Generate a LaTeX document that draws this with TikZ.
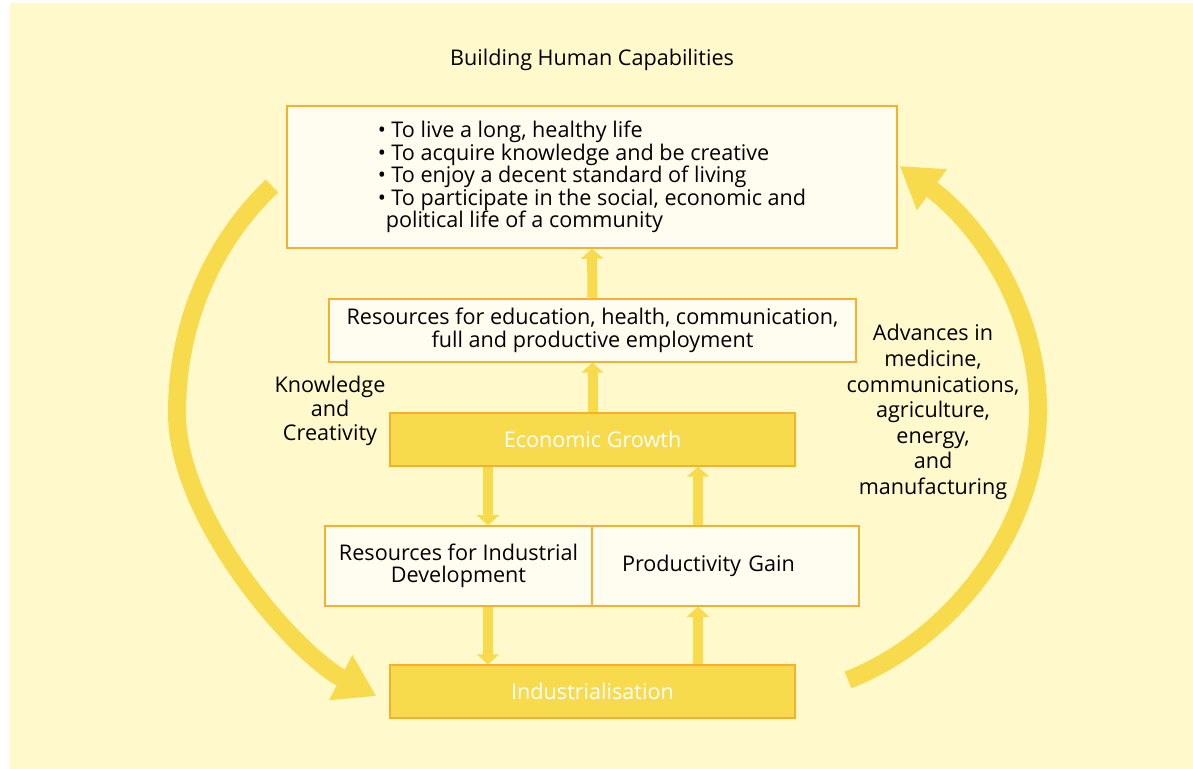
\documentclass[tikz,border=0pt]{standalone}
\usepackage{fontspec}
\setmainfont{Open Sans}
\usetikzlibrary{arrows.meta}
\definecolor{bgyellow}{HTML}{FFF9CC}
\definecolor{boxfill}{HTML}{FFFDEF}
\definecolor{boxline}{HTML}{F5B02E}
\definecolor{flowyellow}{HTML}{F7DB4D}
\tikzset{
  lightbox/.style={draw=boxline, line width=0.75pt, fill=boxfill, inner sep=0pt},
  darkbox/.style={draw=boxline, line width=0.75pt, fill=flowyellow, text=white, inner sep=0pt, minimum width=202.5pt, minimum height=26.5pt},
  flowarrow/.style={draw=flowyellow, line width=5pt, -{Triangle[length=5pt,width=11pt]}},
  cyclearrow/.style={draw=flowyellow, line width=9pt, -{Triangle[length=20pt,width=24pt]}},
  sidetext/.style={align=center, font=\fontsize{10.8}{12.8}\selectfont}
}
\begin{document}
\begin{tikzpicture}[x=0.5pt, y=-0.5pt, font=\fontsize{10.8}{11.3}\selectfont]
\useasboundingbox (0,0) rectangle (1193,769);
\fill[bgyellow] (10,3) rectangle (1193,769);
\node (title) at (592,60) {Building Human Capabilities};
\node[lightbox, minimum width=305pt, minimum height=71pt, align=left] (goals) at (592,177)
  {\textbullet\ To live a long, healthy life\\
   \textbullet\ To acquire knowledge and be creative\\
   \textbullet\ To enjoy a decent standard of living\\
   \textbullet\ To participate in the social, economic and\\
   \hspace*{4pt}political life of a community};
\node[lightbox, minimum width=263.5pt, minimum height=31.5pt, align=center] (resources) at (592.5,330.5)
  {Resources for education, health, communication,\\ full and productive employment};
\node[darkbox] (growth) at (592.5,439.5) {Economic Growth};
\node[lightbox, minimum width=133.5pt, minimum height=40pt, align=center] (industrial) at (458.5,566)
  {Resources for Industrial\\ Development};
\node[lightbox, minimum height=40pt, text width=103.5pt, inner xsep=15pt, align=left] (gain) at (725.5,566) {Productivity Gain};
\node[darkbox] (industry) at (592.5,691.5) {Industrialisation};
\node[sidetext, font=\fontsize{10.8}{12}\selectfont] (knowledge) at (330,411) {Knowledge\\ and\\ Creativity};
\node[sidetext] (advances) at (933,412) {Advances in\\ medicine,\\ communications,\\ agriculture,\\ energy,\\ and\\ manufacturing};
\path[flowarrow] (resources.north) -- (goals.south);
\path[flowarrow] (growth.north) -- (resources.south);
\path[flowarrow] ([xshift=-52.25pt]growth.south) -- ([xshift=-52.25pt]growth.south |- industrial.north);
\path[flowarrow] ([xshift=52.75pt]growth.south |- gain.north) -- ([xshift=52.75pt]growth.south);
\path[flowarrow] ([xshift=-52.25pt]industry.north |- industrial.south) -- ([xshift=-52.25pt]industry.north);
\path[flowarrow] ([xshift=52.75pt]industry.north) -- ([xshift=52.75pt]industry.north |- gain.south);
\coordinate (kstart) at (272,186);
\coordinate (astart) at (848,680);
\path[cyclearrow] (kstart) .. controls (215,240) and (177,320) .. (177,413)
  .. controls (177,520) and (297,655) .. ([xshift=-6.5pt,yshift=-2.25pt]industry.west);
\path[cyclearrow] (astart) .. controls (950,640) and (1038,530) .. (1038,410)
  .. controls (1038,310) and (980,225) .. ([xshift=1pt,yshift=5.5pt]goals.east);
\end{tikzpicture}
\end{document}
